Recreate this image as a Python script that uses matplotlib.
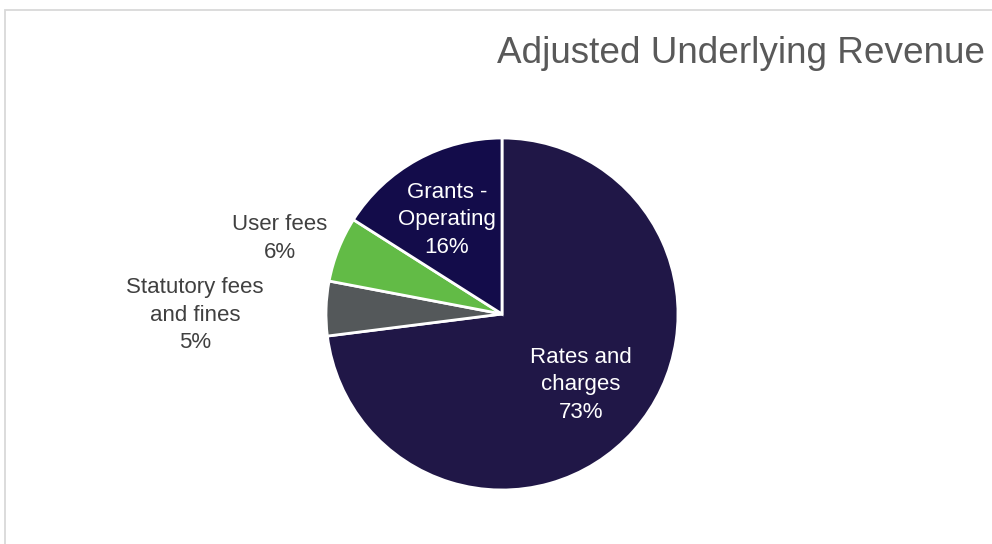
import matplotlib
matplotlib.use("Agg")
import matplotlib.pyplot as plt
import matplotlib.patches as mpatches
import numpy as np

plt.rcParams['font.family'] = ['Liberation Sans', 'DejaVu Sans']

categories = ["Rates and\ncharges", "Statutory fees\nand fines", "User fees", "Grants -\nOperating"]
values = [73, 5, 6, 16]
colors = ["#201747", "#54585a", "#62bb46", "#130c4a"]
label_colors = ["white", "#404040", "#404040", "white"]
label_dist = [0.603, 1.745, 1.332, 0.619]
label_angle_offset = [-0.55, 2.0, 2.8, 1.5]
title = "Adjusted Underlying Revenue"

W, H = 992, 544
fig = plt.figure(figsize=(W / 100, H / 100), dpi=100)

# chart border
border = mpatches.Rectangle((5 / W, -0.1), 1.2, (H - 10) / H + 0.1, transform=fig.transFigure,
                            fill=False, edgecolor="#d9d9d9", linewidth=1.3)
fig.patches.append(border)

cx, cy, r = 502, 314, 176
ax = fig.add_axes([(cx - r) / W, (H - cy - r) / H, 2 * r / W, 2 * r / H])
wedges, _ = ax.pie(values, colors=colors, startangle=90, counterclock=False, radius=1,
                   wedgeprops=dict(edgecolor="white", linewidth=2.0))
ax.set_xlim(-1, 1)
ax.set_ylim(-1, 1)
ax.set_aspect('equal')
ax.axis('off')

for w, cat, v, col, d, off in zip(wedges, categories, values, label_colors, label_dist, label_angle_offset):
    ang = np.deg2rad((w.theta1 + w.theta2) / 2 + off)
    x, y = d * np.cos(ang), d * np.sin(ang)
    ax.text(x, y, f"{cat}\n{v}%", ha="center", va="center", color=col, fontsize=16,
            linespacing=1.4, clip_on=False)

fig.text(985 / W, (H - 63) / H, title, ha="right", va="baseline", fontsize=26.6, color="#595959")

fig.savefig("out.png", dpi=100)
